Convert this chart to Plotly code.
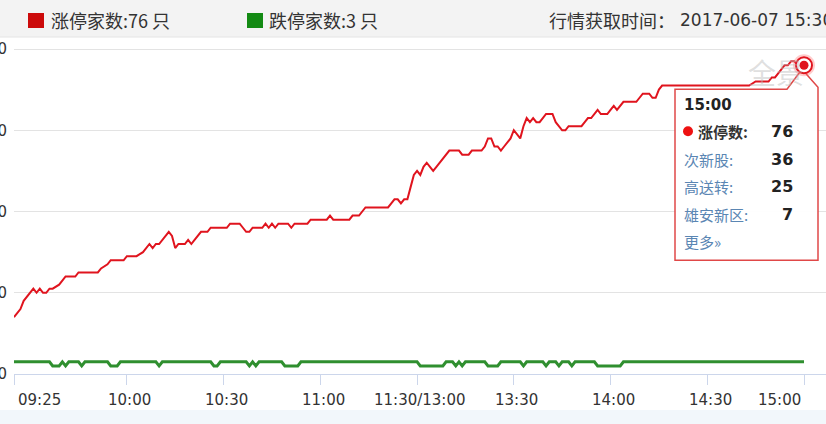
import plotly.graph_objects as go

# ---------------- data ----------------
# x = trading minutes after 09:25 (09:25..11:30 -> 0..125, 13:00..15:00 -> 125..245)
red_min = [0, 1, 2, 3, 4, 5, 6, 7, 8, 9, 10, 11, 12, 14, 15, 16, 17, 19, 20, 21, 24, 26, 27, 29, 30,
           32, 34, 35, 37, 38, 40, 41, 42, 43, 44, 45, 46, 47, 48, 49, 50, 51, 53, 54, 55, 56, 57, 58,
           59, 60, 61, 62, 63, 65, 66, 67, 69, 70, 71, 72, 73, 74, 75, 77, 78, 79, 80, 81, 82, 84, 85,
           86, 87, 89, 91, 92, 93, 95, 97, 98, 99, 101, 103, 104, 105, 107, 108, 109, 110, 112, 114,
           116, 117, 118, 119, 120, 121, 122, 123, 124, 125, 126, 127, 128, 129, 130, 131, 132, 133,
           134, 135, 136, 137, 138, 139, 140, 141, 142, 143, 144, 145, 146, 147, 148, 149, 150, 151,
           152, 153, 154, 155, 156, 157, 158, 159, 160, 161, 162, 163, 164, 165, 166, 167, 168, 169,
           170, 171, 172, 173, 174, 175, 176, 177, 178, 179, 180, 181, 182, 183, 184, 185, 186, 187,
           188, 189, 190, 191, 193, 194, 195, 197, 198, 199, 200, 201, 202, 204, 206, 208, 210, 212,
           214, 216, 218, 220, 222, 224, 226, 228, 230, 232, 234, 235, 236, 237, 238, 239, 240, 241,
           242, 243, 244, 245]
red_val = [14, 15, 16, 18, 19, 20, 21, 20, 21, 20, 20, 21, 21, 22, 23, 24, 24, 24, 25, 25, 25, 25, 26, 27, 28,
           28, 28, 29, 29, 29, 30, 31, 32, 31, 32, 32, 33, 34, 35, 34, 31, 32, 32, 33, 32, 33, 34, 35,
           35, 35, 36, 36, 36, 36, 36, 37, 37, 37, 36, 35, 35, 36, 36, 36, 37, 36, 37, 36, 37, 37, 37,
           36, 37, 37, 37, 38, 38, 38, 38, 39, 38, 38, 38, 38, 39, 39, 40, 41, 41, 41, 41,
           41, 42, 43, 43, 42, 43, 43, 46, 49, 50, 49, 51, 52, 51, 50, 51, 52, 53,
           54, 55, 55, 55, 55, 54, 54, 54, 55, 55, 55, 55, 56, 58, 58, 56, 56, 55,
           56, 57, 58, 60, 59, 58, 61, 63, 62, 63, 62, 62, 63, 64, 64, 64, 62, 61,
           60, 60, 61, 61, 61, 61, 61, 62, 63, 63, 64, 65, 64, 64, 64, 65, 66, 65,
           66, 67, 67, 67, 67, 68, 69, 69, 68, 68, 70, 71, 71, 71, 71, 71, 71, 71,
           71, 71, 71, 71, 71, 71, 71, 71, 72, 72, 72, 73, 73, 74, 75, 76, 76, 77,
           77, 76, 76, 76]

green_min = [0, 11, 12, 14, 15, 16, 17, 20, 21, 22, 29, 30, 32, 33, 44, 45, 46, 61, 62, 63, 64, 72, 73,
             74, 75, 76, 83, 84, 88, 89, 125, 126, 133, 134, 136, 137, 138, 139, 140, 146, 147, 150,
             151, 157, 158, 159, 164, 165, 166, 168, 169, 170, 172, 173, 174, 180, 181, 188, 189, 245]
green_val = [3, 3, 2, 2, 3, 2, 3, 3, 2, 3, 3, 2, 2, 3, 3, 2, 3, 3, 2, 2, 3, 3, 2,
             3, 2, 3, 3, 2, 2, 3, 3, 2, 2, 3, 3, 2, 3, 2, 3, 3, 2, 2,
             3, 3, 2, 3, 3, 2, 3, 3, 2, 3, 3, 2, 3, 3, 2, 2, 3, 3]

tick_min = [0, 35, 65, 95, 125, 155, 185, 215, 245]
tick_text = ["09:25", "10:00", "10:30", "11:00", "11:30/13:00", "13:30", "14:00", "14:30", "15:00"]
y_ticks = [0, 20, 40, 60, 80]

up_label = "涨停家数:76 只"
down_label = "跌停家数:3 只"
time_caption = "行情获取时间："
time_value = "2017-06-07 15:30"
tip_time = "15:00"
tip_rows = ["涨停数:", "次新股:", "高送转:", "雄安新区:"]
tip_vals = [76, 36, 25, 7]
tip_more = "更多»"

# ---------------- layout helpers ----------------
W, H = 826, 424
L, R, T, B = 14, 0, 40, 50
PW, PH = W - L - R, H - T - B


def xp(px):
    return (px - L) / PW


def yp(py):
    return (H - B - py) / PH


RED = "#e0141e"
GREEN = "#2f8f2f"
CJK = "Noto Sans CJK SC"

fig = go.Figure()
fig.add_trace(go.Scatter(x=green_min, y=green_val, mode="lines",
                         line=dict(color=GREEN, width=3), hoverinfo="skip", showlegend=False))
fig.add_trace(go.Scatter(x=red_min, y=red_val, mode="lines",
                         line=dict(color=RED, width=2), hoverinfo="skip", showlegend=False))

shapes = []
annos = []
# header band and bottom band
shapes.append(dict(type="rect", xref="paper", yref="paper", x0=xp(0), x1=xp(W), y0=yp(37), y1=yp(0),
                   fillcolor="#f3f3f3", line=dict(width=0), layer="below"))
shapes.append(dict(type="line", xref="paper", yref="paper", x0=xp(0), x1=xp(W), y0=yp(37), y1=yp(37),
                   line=dict(color="#e4e4e4", width=1)))
shapes.append(dict(type="rect", xref="paper", yref="paper", x0=xp(0), x1=xp(W), y0=yp(H), y1=yp(410),
                   fillcolor="#f2f7fb", line=dict(width=0), layer="below"))
# legend squares
shapes.append(dict(type="rect", xref="paper", yref="paper", x0=xp(28), x1=xp(44), y0=yp(28), y1=yp(13),
                   fillcolor="#cc0a0a", line=dict(width=0)))
shapes.append(dict(type="rect", xref="paper", yref="paper", x0=xp(247), x1=xp(263), y0=yp(28), y1=yp(13),
                   fillcolor="#138a13", line=dict(width=0)))
annos.append(dict(text=up_label, xref="paper", yref="paper", x=xp(49), y=yp(20), xanchor="left",
                  yanchor="middle", showarrow=False, font=dict(family=CJK, size=18, color="#333")))
annos.append(dict(text=down_label, xref="paper", yref="paper", x=xp(267), y=yp(20), xanchor="left",
                  yanchor="middle", showarrow=False, font=dict(family=CJK, size=18, color="#333")))
annos.append(dict(text=time_caption, xref="paper", yref="paper", x=xp(547), y=yp(20), xanchor="left",
                  yanchor="middle", showarrow=False, font=dict(family=CJK, size=18, color="#333")))
annos.append(dict(text=time_value, xref="paper", yref="paper", x=xp(678), y=yp(20), xanchor="left",
                  yanchor="middle", showarrow=False,
                  font=dict(family="DejaVu Sans", size=17, color="#333")))

# x tick labels
for i, (m, t) in enumerate(zip(tick_min, tick_text)):
    if i == 0:
        anc, sh = "left", 2
    elif i == len(tick_min) - 1:
        anc, sh = "right", -1
    else:
        anc, sh = "center", 3
    annos.append(dict(text=t, x=m, xref="x", y=yp(400), yref="paper", xanchor=anc, yanchor="middle",
                      xshift=sh, showarrow=False,
                      font=dict(family="DejaVu Sans", size=15, color="#333")))

# watermark
annos.append(dict(text="全景", xref="paper", yref="paper", x=xp(776), y=yp(72), xanchor="center",
                  yanchor="middle", showarrow=False,
                  font=dict(family=CJK, size=28, color="rgba(185,185,185,0.45)")))

# tooltip anchored at last point
ax, ay = red_min[-1], red_val[-1]
tip = dict(xref="x", yref="y", xsizemode="pixel", ysizemode="pixel", xanchor=ax, yanchor=ay)
shapes.append(dict(type="path", path="M -129,-24 L -17,-24 L -2,-4 L 14,-22 L 14,-195 L -129,-195 Z",
                   fillcolor="rgba(255,255,255,0.96)", line=dict(color="#e04848", width=1.5), **tip))
# highlighted point
shapes.append(dict(type="circle", x0=-11, x1=11, y0=-11, y1=11,
                   fillcolor="rgba(255,110,110,0.35)", line=dict(width=0), **tip))
shapes.append(dict(type="circle", x0=-8, x1=8, y0=-8, y1=8,
                   fillcolor="white", line=dict(color=RED, width=2), **tip))
shapes.append(dict(type="circle", x0=-4.5, x1=4.5, y0=-4.5, y1=4.5,
                   fillcolor=RED, line=dict(width=0), **tip))
# small red dot in tooltip
shapes.append(dict(type="circle", x0=-121, x1=-111, y0=-71, y1=-61,
                   fillcolor="#ee1111", line=dict(width=0), **tip))

base = dict(x=ax, y=ay, xref="x", yref="y", showarrow=False, yanchor="middle")
annos.append(dict(text="<b>" + tip_time + "</b>", xanchor="left", xshift=-122, yshift=-40,
                  font=dict(family="DejaVu Sans", size=15, color="#222"), **base))
row_y = [131, 159, 186, 214]
for j, (lab, val, ry) in enumerate(zip(tip_rows, tip_vals, row_y)):
    if j == 0:
        annos.append(dict(text="<b>" + lab + "</b>", xanchor="left", xshift=-108, yshift=65 - ry,
                          font=dict(family=CJK, size=15, color="#333"), **base))
    else:
        annos.append(dict(text=lab, xanchor="left", xshift=-122, yshift=65 - ry,
                          font=dict(family=CJK, size=15, color="#5a86b3"), **base))
    annos.append(dict(text="<b>" + str(val) + "</b>", xanchor="right", xshift=-9, yshift=65 - ry,
                      font=dict(family="DejaVu Sans", size=16, color="#222"), **base))
annos.append(dict(text=tip_more, xanchor="left", xshift=-122, yshift=65 - 241,
                  font=dict(family=CJK, size=15, color="#5a86b3"), **base))

x_max = 245 + (W - 804) / (804 - L) * 245
y_max = 80 * PH / (H - B - 49)

fig.update_layout(
    width=W, height=H, template="none",
    margin=dict(l=L, r=R, t=T, b=B, pad=0),
    paper_bgcolor="white", plot_bgcolor="white",
    shapes=shapes, annotations=annos, showlegend=False,
    xaxis=dict(range=[0, x_max], tickvals=tick_min, showticklabels=False, ticks="outside",
               ticklen=10, tickcolor="#ccd6eb", showline=True, linecolor="#ccd6eb", linewidth=1,
               showgrid=False, zeroline=False, automargin=False, fixedrange=True),
    yaxis=dict(range=[0, y_max], tickvals=y_ticks, ticks="", showline=False, showgrid=True,
               gridcolor="#e3e3e3", gridwidth=1, zeroline=False, automargin=False,
               ticklabelstandoff=6, tickfont=dict(family="DejaVu Sans", size=15, color="#333"),
               fixedrange=True),
)

fig.write_html("out.html", config={"displayModeBar": False},
               post_script="document.body.style.margin='0';document.body.style.padding='0';")
